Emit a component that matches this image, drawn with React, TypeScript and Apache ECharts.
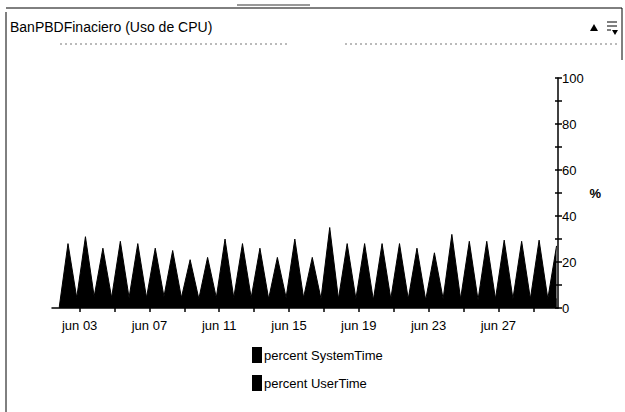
import React, { useEffect, useRef } from "react";
import * as echarts from "echarts";

// Axis range: jun 01 10:00 to jun 30 10:00, expressed in hours since jun 01 00:00
const X_MIN_HOURS = 10;
const X_MAX_HOURS = 29 * 24 + 10;

// Peak samples, one per day (jun 02 .. jun 30, 08:00)
const systemPeaks = [4, 5, 4, 4, 4, 4, 4, 3, 3, 5, 4, 4, 3, 5, 3, 6, 4, 4, 4, 4, 4, 4, 5, 4, 4, 5, 4, 5, 4];
const userPeaks = [24, 26, 22, 25, 24, 22, 21, 18, 19, 25, 24, 22, 19, 25, 19, 29, 24, 24, 24, 24, 22, 20, 27, 25, 25, 24.5, 25, 24.5, 23];

// Trough samples, one per day (jun 01 .. jun 29, 20:00)
const systemTroughs = [0.2, 1, 1, 1, 1, 1, 1, 1, 1, 1, 1, 1, 1, 1, 1, 1, 1, 1, 1, 1, 1, 1, 1, 1, 1, 1, 1, 1, 1];
const userTroughs = [0.3, 3.5, 4, 3.5, 3.5, 3.5, 4, 3.5, 3, 3.5, 3.5, 3.5, 3, 3.5, 3.5, 3, 3, 3, 2.5, 3, 3, 2.5, 3, 3, 2.5, 3, 3, 3, 3];

// Tick days (day offset from jun 01) and label days
const tickDays = [2, 4, 6, 8, 10, 12, 14, 16, 18, 20, 22, 24, 26, 28];
const labelDays = [2, 6, 10, 14, 18, 22, 26];

const MONTH = "jun";
const FONT = "'Liberation Sans', Arial, sans-serif";

function buildSeries(troughs: number[], peaks: number[]): [number, number][] {
  const out: [number, number][] = [];
  for (let i = 0; i < troughs.length; i++) {
    out.push([i * 24 + 20, troughs[i]]);
    if (i < peaks.length) out.push([(i + 1) * 24 + 8, peaks[i]]);
  }
  return out;
}

export default function App() {
  const ref = useRef<HTMLDivElement>(null);
  useEffect(() => {
    if (!ref.current) return;
    const chart = echarts.init(ref.current, undefined, { renderer: "svg" });
    const sys = buildSeries(systemTroughs, systemPeaks);
    const usr = buildSeries(userTroughs, userPeaks);
    // stacked top of user time = system + user (drawn behind the system series)
    const usrTop = usr.map((p, i) => [p[0], p[1] + sys[i][1]]);
    const pad = (n: number) => (n < 10 ? "0" + n : "" + n);
    const tickStyle = { color: "#000", width: 1.5 };
    chart.setOption({
      animation: false,
      backgroundColor: "#fff",
      textStyle: { fontFamily: FONT, color: "#000" },
      grid: { left: 52, right: 67, top: 78, bottom: 104 },
      xAxis: {
        type: "value",
        min: X_MIN_HOURS,
        max: X_MAX_HOURS,
        splitLine: { show: false },
        axisLine: { show: true, lineStyle: { color: "#000", width: 1.5 } },
        axisTick: {
          show: true,
          customValues: tickDays.map((d) => d * 24),
          length: 4,
          lineStyle: tickStyle,
        },
        axisLabel: {
          customValues: labelDays.map((d) => d * 24),
          formatter: (v: number) => MONTH + " " + pad(Math.round(v / 24) + 1),
          color: "#000",
          fontSize: 13,
          fontFamily: FONT,
          margin: 11,
        },
      },
      yAxis: [
        {
          type: "value",
          position: "right",
          min: 0,
          max: 100,
          interval: 10,
          name: "%",
          nameLocation: "middle",
          nameGap: 30,
          nameRotate: 0,
          nameTextStyle: { color: "#000", fontSize: 13, fontFamily: FONT, fontWeight: "bold" },
          splitLine: { show: false },
          axisLine: { show: true, lineStyle: { color: "#000", width: 1.5 } },
          axisTick: { show: true, length: 4, lineStyle: tickStyle },
          axisLabel: {
            color: "#000",
            fontSize: 13,
            fontFamily: FONT,
            margin: 4,
            formatter: (v: number) => (v % 20 === 0 ? String(v) : ""),
          },
        },
        {
          type: "value",
          position: "right",
          min: 0,
          max: 100,
          interval: 10,
          splitLine: { show: false },
          axisLine: { show: false },
          axisTick: { show: true, inside: true, length: 3, lineStyle: tickStyle },
          axisLabel: { show: false },
        },
      ],
      legend: {
        orient: "vertical",
        left: 252,
        top: 347,
        padding: 0,
        itemGap: 12,
        itemWidth: 10,
        itemHeight: 16,
        icon: "rect",
        textStyle: { color: "#000", fontSize: 13, fontFamily: FONT, padding: [0, 0, 0, -3] },
        data: ["percent SystemTime", "percent UserTime"],
      },
      series: [
        {
          name: "percent UserTime",
          type: "line",
          data: usrTop,
          showSymbol: false,
          symbol: "none",
          z: 2,
          itemStyle: { color: "#000" },
          lineStyle: { color: "#000", width: 1 },
          areaStyle: { color: "#000", opacity: 1 },
        },
        {
          name: "percent SystemTime",
          type: "line",
          data: sys,
          showSymbol: false,
          symbol: "none",
          z: 3,
          itemStyle: { color: "#000" },
          lineStyle: { color: "#000", width: 1 },
          areaStyle: { color: "#000", opacity: 1 },
        },
      ],
      graphic: [
        { type: "line", shape: { x1: 6, y1: 8, x2: 622, y2: 8 }, style: { stroke: "#000", lineWidth: 1 } },
        { type: "line", shape: { x1: 6, y1: 12, x2: 6, y2: 412 }, style: { stroke: "#000", lineWidth: 1 } },
        { type: "line", shape: { x1: 622, y1: 8, x2: 622, y2: 60 }, style: { stroke: "#000", lineWidth: 1 } },
        { type: "line", shape: { x1: 237, y1: 5, x2: 310, y2: 5 }, style: { stroke: "#333", lineWidth: 1 } },
        { type: "line", shape: { x1: 60, y1: 44, x2: 290, y2: 44 }, style: { stroke: "#777", lineWidth: 1, lineDash: [2, 3] } },
        { type: "line", shape: { x1: 345, y1: 44, x2: 620, y2: 44 }, style: { stroke: "#777", lineWidth: 1, lineDash: [2, 3] } },
        {
          type: "text",
          left: 10,
          top: 20,
          style: { text: "BanPBDFinaciero (Uso de CPU)", fill: "#000", fontSize: 14, fontFamily: FONT },
        },
        { type: "polygon", shape: { points: [[590, 31], [594, 24], [598, 31]] }, style: { fill: "#000" } },
        { type: "line", shape: { x1: 607, y1: 22, x2: 617, y2: 22 }, style: { stroke: "#000", lineWidth: 1 } },
        { type: "line", shape: { x1: 607, y1: 26, x2: 617, y2: 26 }, style: { stroke: "#000", lineWidth: 1 } },
        { type: "line", shape: { x1: 607, y1: 30, x2: 611, y2: 30 }, style: { stroke: "#000", lineWidth: 1 } },
        { type: "polygon", shape: { points: [[612, 30], [618, 30], [615, 35]] }, style: { fill: "#000" } },
      ],
    });
    return () => chart.dispose();
  }, []);
  return (
    <div
      ref={ref}
      style={{ position: "fixed", left: 0, top: 0, width: 625, height: 412, background: "#fff" }}
    />
  );
}
